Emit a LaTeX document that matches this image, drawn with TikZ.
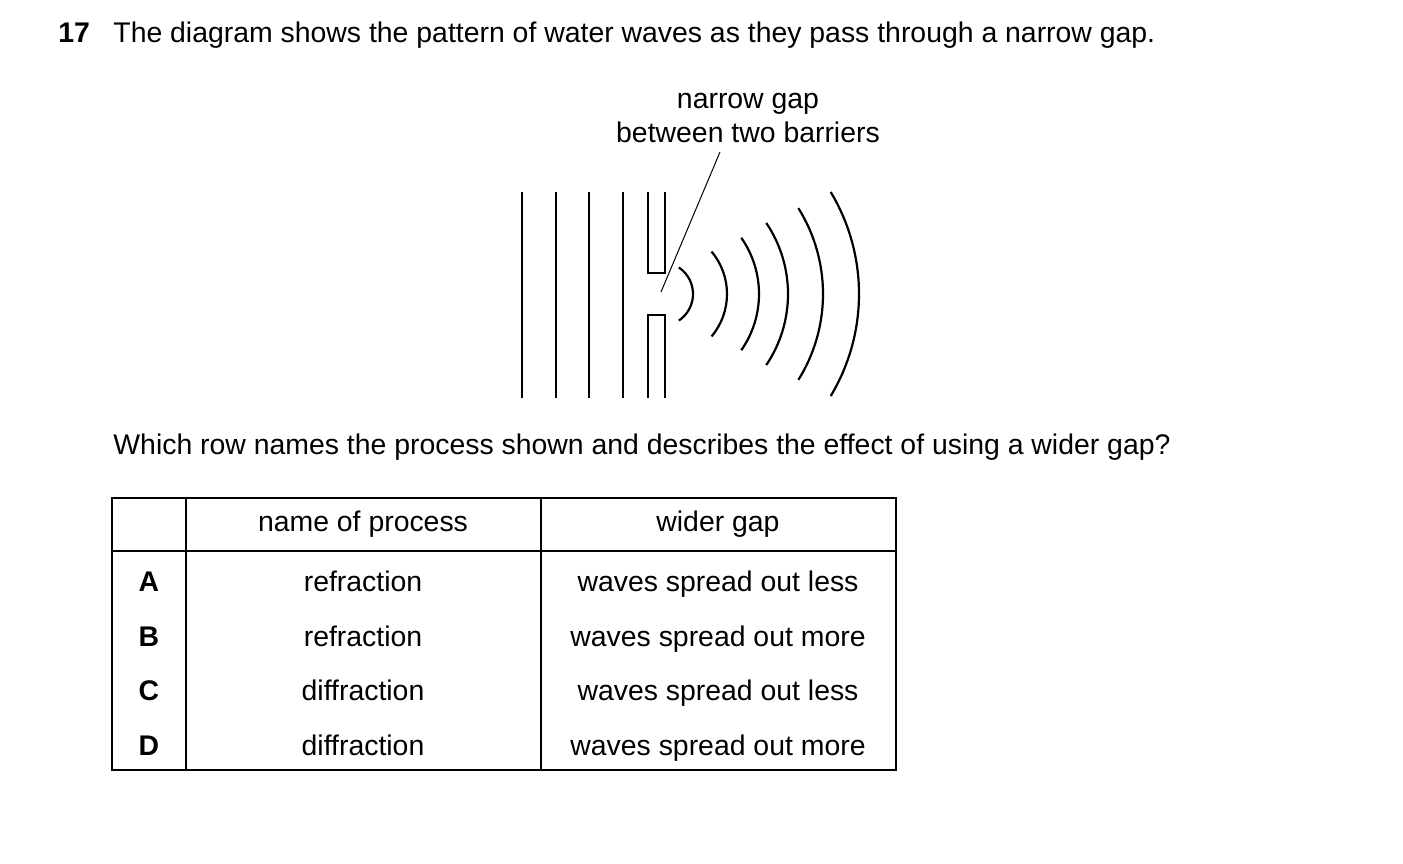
\documentclass[tikz,border=0pt]{standalone}
\usepackage{fontspec}
\setmainfont{Liberation Sans}
\usetikzlibrary{positioning}

\begin{document}
\begin{tikzpicture}[x=0.5pt,y=-0.5pt,
			txt/.style={font=\fontsize{14.2}{17}\selectfont,inner sep=0pt,text height=1.6ex,text depth=0.4ex},
			wave/.style={line width=1.1pt},
			grid line/.style={line width=0.6pt},
			letter/.style={txt,font=\fontsize{14.2}{17}\selectfont\bfseries}
			]
		\useasboundingbox (0,0) rectangle (1403,863);
		%\draw[step=100, color=gray] (0,0) grid (1403,863);
		\node [letter, anchor=west] (qnum) at (58,36) {17};
		\node [txt, anchor=west] (qtext) at (113,36) {The diagram shows the pattern of water waves as they pass through a narrow gap.};
		\node [txt, align=center, text height=, text depth=] (gaplabel) at (748,118) {narrow gap\\between two barriers};

		% incoming plane waves
		\foreach \x in {522,556,589,623}
			\draw [wave] (\x,192) -- (\x,398);
		% barriers
		\draw [wave] (648,192) -- (648,273) -- (665,273) -- (665,192);
		\draw [wave] (648,398) -- (648,315) -- (665,315) -- (665,398);
		\coordinate (gap) at (661,292);
		% spreading waves
		\foreach \r/\a in {32/56,66/40,98/35,127/34,162/32,198/31}
			\draw [wave] (661,294) ++(-\a:\r) arc[start angle=-\a, end angle=\a, radius=\r];
		\draw [line width=0.5pt] (720,152) -- (gap);

		\node [txt, anchor=west] (ask) at (113,448) {Which row names the process shown and describes the effect of using a wider gap?};

		% table
		\draw [grid line] (112,498) rectangle (896,770);
		\draw [grid line] (112,551) -- (896,551);
		\draw [grid line] (186,498) -- (186,770);
		\draw [grid line] (541,498) -- (541,770);
		\node [txt] (hname) at (363,525) {name of process};
		\node [txt] (hgap) at (718,525) {wider gap};
		\foreach \l/\p/\w [count=\i] in {A/refraction/less,B/refraction/more,C/diffraction/less,D/diffraction/more}
			{
			\node [letter] (row\i) at (149,531+\i*54.5) {\l};
			\node [txt] (proc\i) at (363,531+\i*54.5) {\p};
			\node [txt] (eff\i) at (718,531+\i*54.5) {waves spread out \w};
			}
		\end{tikzpicture}
\end{document}
